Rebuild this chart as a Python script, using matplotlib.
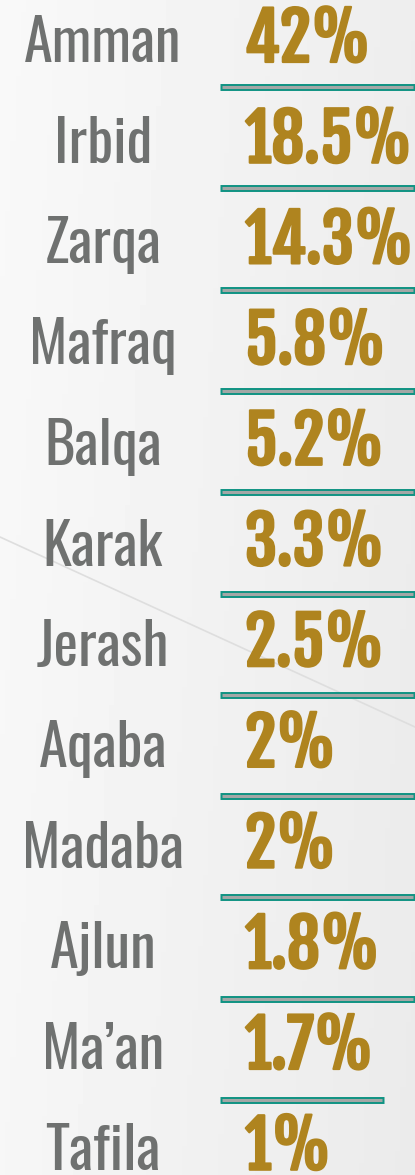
import matplotlib
matplotlib.use("Agg")
import matplotlib.pyplot as plt
import matplotlib.patheffects as pe
import numpy as np

# data
cities = ["Amman", "Irbid", "Zarqa", "Mafraq", "Balqa", "Karak", "Jerash",
          "Aqaba", "Madaba", "Ajlun", "Ma\u2019an", "Tafila"]
shares = [42, 18.5, 14.3, 5.8, 5.2, 3.3, 2.5, 2, 2, 1.8, 1.7, 1]

GRAY = "#6f7170"
GOLD = "#af841f"
TEAL = "#0f9383"
INNER = "#a3a7a6"

W, H = 415, 1175
fig = plt.figure(figsize=(W / 100, H / 100), dpi=100)
ax = fig.add_axes([0, 0, 1, 1])
ax.set_xlim(0, W)
ax.set_ylim(H, 0)
ax.axis("off")

# soft background gradient + faint diagonal
yy, xx = np.mgrid[0:1:200j, 0:1:80j]
bg = 0.975 - 0.045 * xx - 0.01 * yy
ax.imshow(bg, cmap="gray", vmin=0, vmax=1, extent=[0, W, H, 0], aspect="auto", zorder=0)
ax.plot([0, W], [537, 727], color="#dedede", lw=1.2, zorder=1)

name_font = ["Oswald", "DejaVu Sans"]
num_font = ["Fjalla One", "DejaVu Sans"]
# thicken the numbers a little, they're heavier in the original
heavy = [pe.withStroke(linewidth=1.6, foreground=GOLD)]

for i, (city, val) in enumerate(zip(cities, shares)):
    base = 62 + i * 100.7
    ax.text(103, base, city, color=GRAY, fontsize=42, family=name_font,
            ha="center", va="baseline", zorder=3)
    ax.text(245, base, f"{val:g}%", color=GOLD, fontsize=47, family=num_font,
            ha="left", va="baseline", zorder=3, path_effects=heavy)
    if i < len(cities) - 1:
        ly = 87 + i * 101.3
        x1 = W if i < len(cities) - 2 else 384
        ax.plot([220, x1], [ly, ly], color=TEAL, lw=5, solid_capstyle="butt", zorder=2)
        ax.plot([222, x1 - 2], [ly, ly], color=INNER, lw=2.2, solid_capstyle="butt", zorder=2)

fig.savefig("out.png", dpi=100)
